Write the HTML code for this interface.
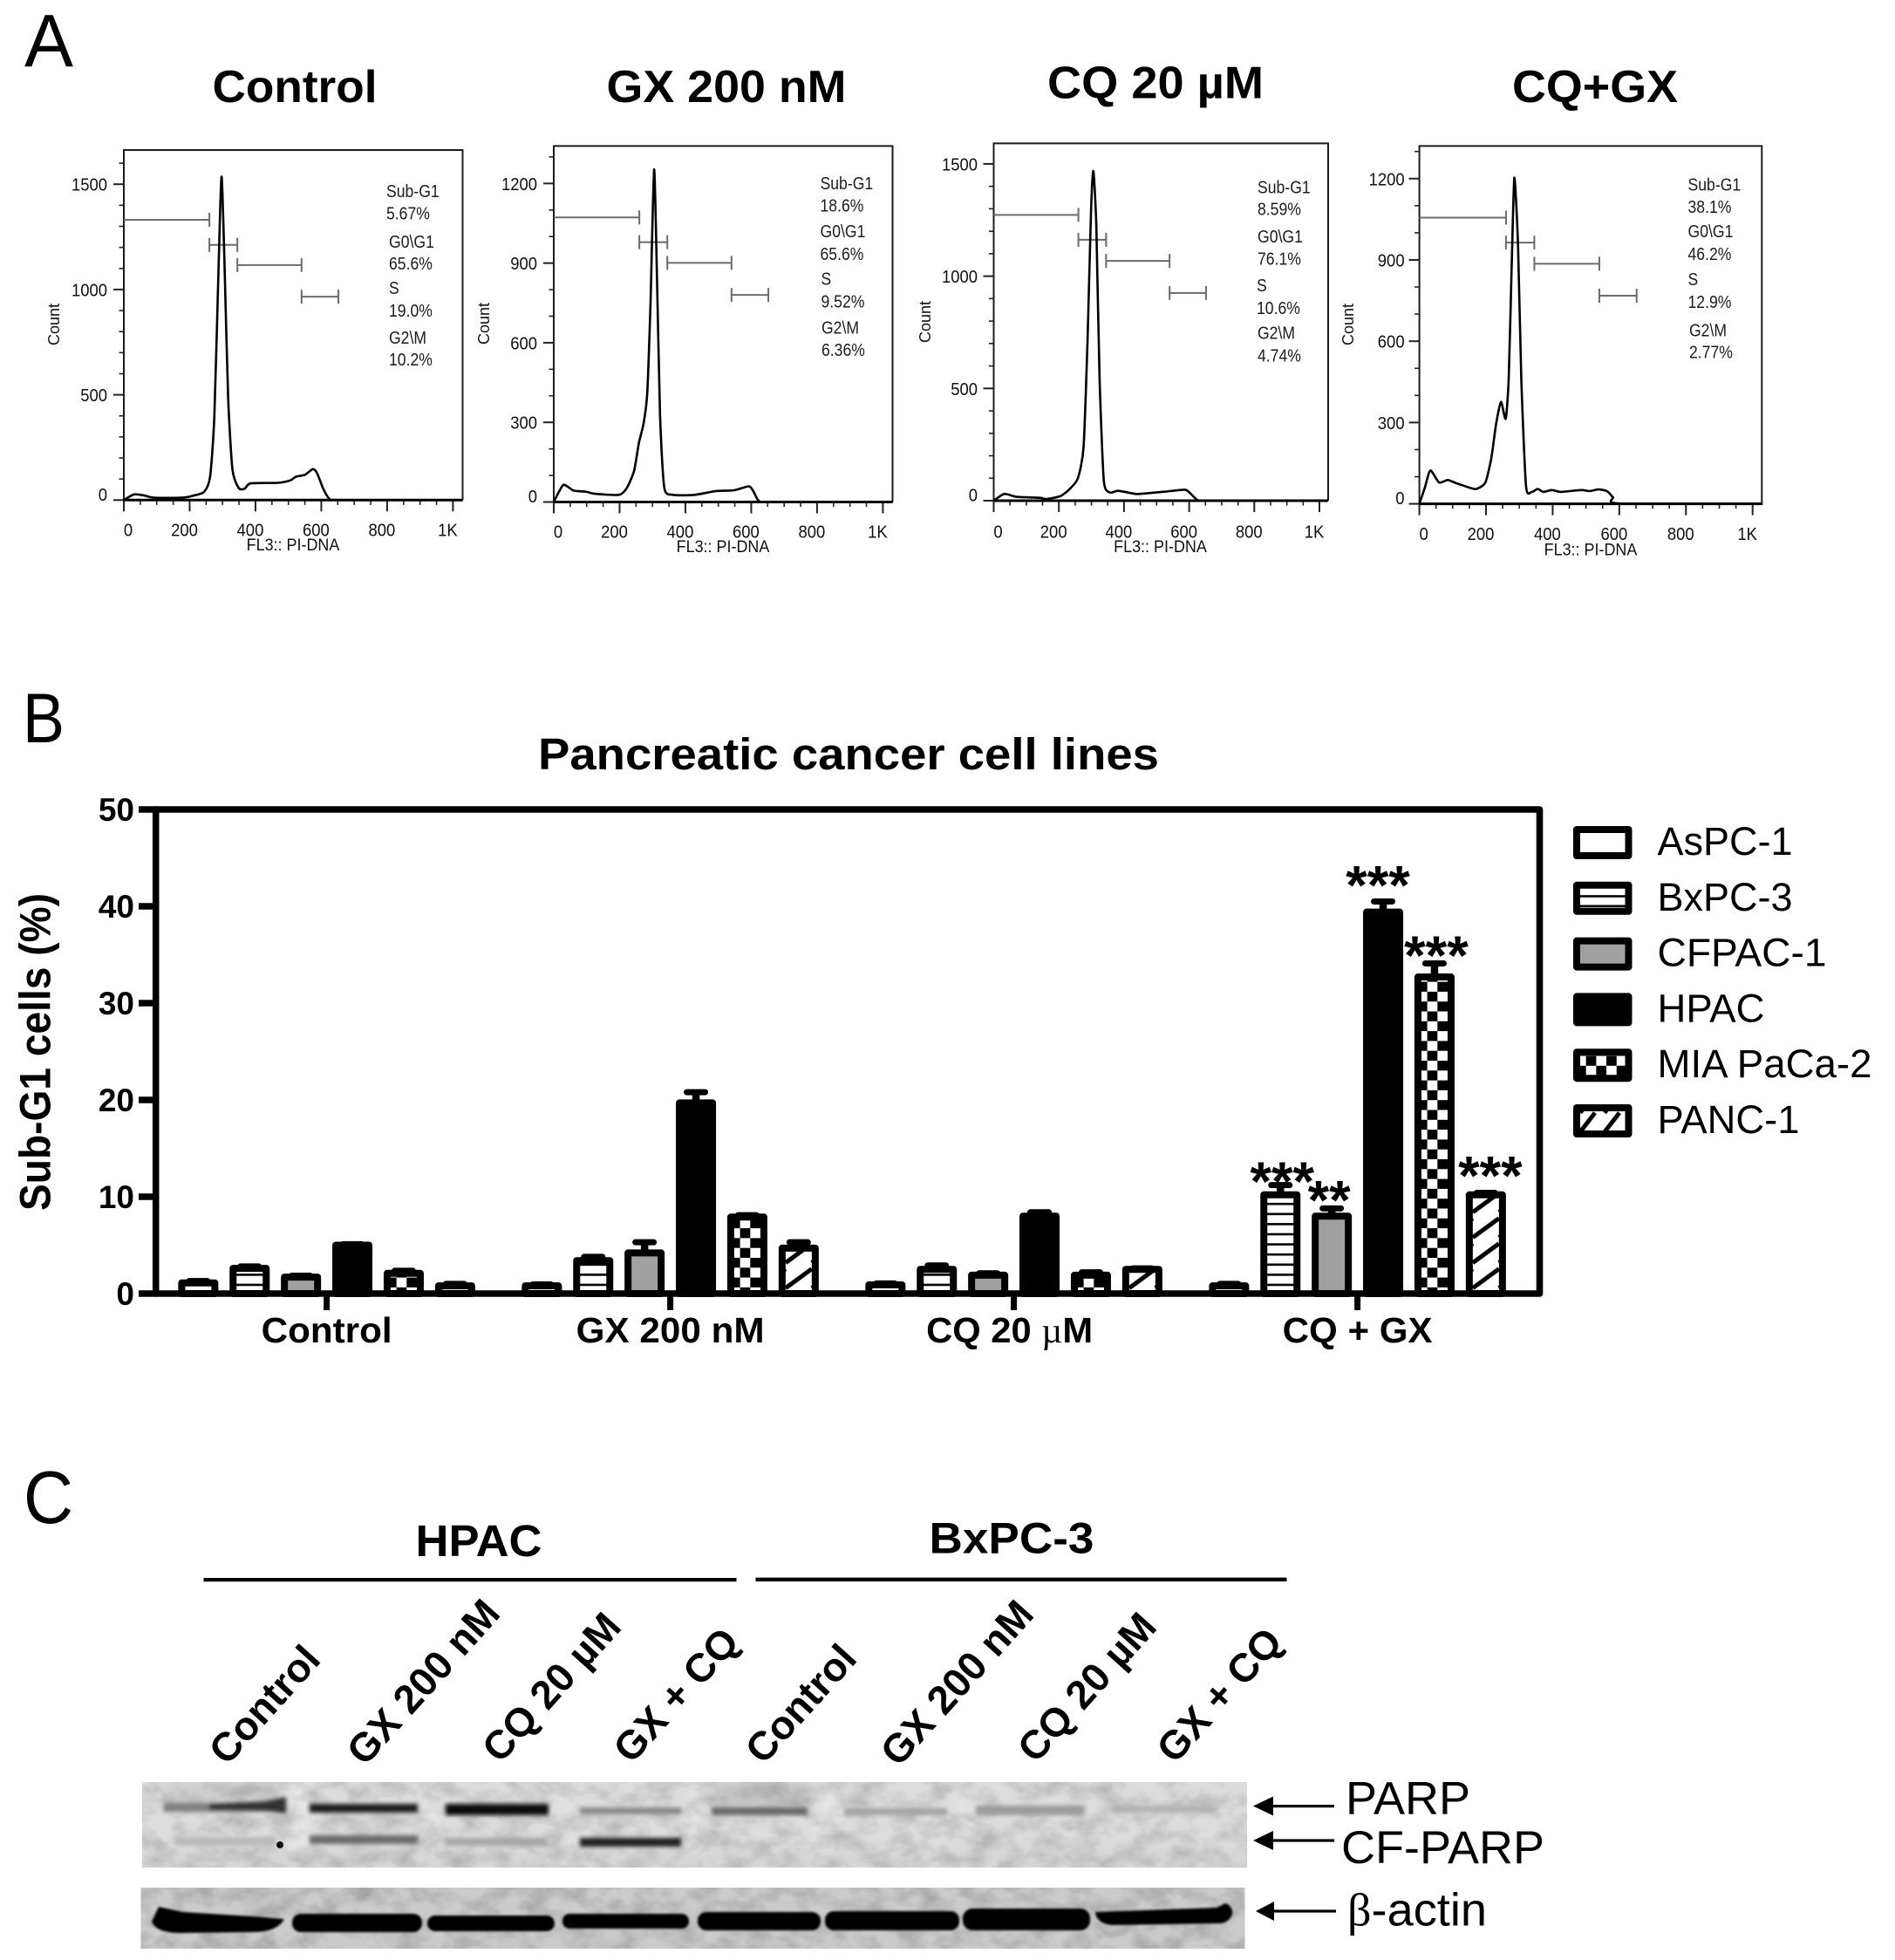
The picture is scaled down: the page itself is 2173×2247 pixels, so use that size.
<!DOCTYPE html>
<html lang="en">
<head>
<meta charset="utf-8">
<title>Sub-G1 analysis figure</title>
<style>
html,body{margin:0;padding:0;background:#fff}
svg{display:block;font-family:"Liberation Sans",Arial,sans-serif}
</style>
</head>
<body>
<svg id="fig" xmlns="http://www.w3.org/2000/svg" width="2173" height="2247" viewBox="0 0 2173 2247">
<defs id="defs">
<filter id="blur2" x="-10%" y="-80%" width="120%" height="260%"><feGaussianBlur stdDeviation="2.4"/></filter>
<filter id="blur1" x="-5%" y="-30%" width="110%" height="160%"><feGaussianBlur stdDeviation="1.2"/></filter>
<filter id="blur6" x="-20%" y="-40%" width="140%" height="180%"><feGaussianBlur stdDeviation="6"/></filter>
<filter id="mottle" x="0" y="0" width="100%" height="100%">
<feTurbulence type="fractalNoise" baseFrequency="0.035 0.05" numOctaves="3" seed="7"/>
<feColorMatrix type="matrix" values="0 0 0 0 0  0 0 0 0 0  0 0 0 0 0  0.9 0 0 0 -0.32"/>
</filter>
<clipPath id="parpClip"><rect x="163" y="2043" width="1267" height="98"/></clipPath>
</defs>
<rect width="2173" height="2247" fill="#fff"/>

<text x="28" y="76" font-size="85" textLength="56" lengthAdjust="spacingAndGlyphs">A</text>
<text x="26" y="851" font-size="81" textLength="48" lengthAdjust="spacingAndGlyphs">B</text>
<text x="27" y="1746" font-size="85" textLength="57" lengthAdjust="spacingAndGlyphs">C</text>

<text x="338" y="117" font-size="52" font-weight="bold" text-anchor="middle" textLength="189" lengthAdjust="spacingAndGlyphs">Control</text>
<text x="833" y="117" font-size="52" font-weight="bold" text-anchor="middle" textLength="275" lengthAdjust="spacingAndGlyphs">GX 200 nM</text>
<text x="1325" y="112.5" font-size="52" font-weight="bold" text-anchor="middle" textLength="248" lengthAdjust="spacingAndGlyphs">CQ 20 µM</text>
<text x="1829" y="117" font-size="52" font-weight="bold" text-anchor="middle" textLength="190" lengthAdjust="spacingAndGlyphs">CQ+GX</text>

<g id="histograms"></g>

<text x="973" y="882" font-size="51" font-weight="bold" text-anchor="middle" textLength="712" lengthAdjust="spacingAndGlyphs">Pancreatic cancer cell lines</text>
<text transform="translate(57.5,1206) rotate(-90)" font-size="50" font-weight="bold" text-anchor="middle" textLength="364" lengthAdjust="spacingAndGlyphs">Sub-G1 cells (%)</text>
<g id="barchart"></g>
<g id="legend"></g>

<text x="549" y="1784" font-size="51" font-weight="bold" text-anchor="middle" textLength="145" lengthAdjust="spacingAndGlyphs">HPAC</text>
<text x="1160" y="1780.5" font-size="50" font-weight="bold" text-anchor="middle" textLength="189" lengthAdjust="spacingAndGlyphs">BxPC-3</text>
<rect x="233.5" y="1809" width="611" height="4.2" fill="#000"/>
<rect x="866.5" y="1808.6" width="609" height="4.4" fill="#000"/>

<g font-size="46" font-weight="bold" text-anchor="middle">
<text transform="translate(303,1954) rotate(-48)" y="16">Control</text>
<text transform="translate(485,1928) rotate(-48)" y="16">GX 200 nM</text>
<text transform="translate(632,1934) rotate(-48)" y="16">CQ 20 µM</text>
<text transform="translate(775,1943) rotate(-48)" y="16">GX + CQ</text>
<text transform="translate(918,1953) rotate(-48)" y="16">Control</text>
<text transform="translate(1097,1929) rotate(-48)" y="16">GX 200 nM</text>
<text transform="translate(1246,1934) rotate(-48)" y="16">CQ 20 µM</text>
<text transform="translate(1398,1943) rotate(-48)" y="16">GX + CQ</text>
</g>

<g>
<rect x="163" y="2043" width="1267" height="98" fill="#dcdcdc"/>
<g clip-path="url(#parpClip)">
<g filter="url(#blur6)">
<rect x="330" y="2043" width="22" height="98" fill="#e8e8e8"/>
<rect x="488" y="2043" width="18" height="98" fill="#e4e4e4"/>
<rect x="640" y="2043" width="18" height="98" fill="#e2e2e2"/>
<rect x="790" y="2043" width="20" height="98" fill="#e2e2e2"/>
<rect x="936" y="2043" width="22" height="98" fill="#e6e6e6"/>
<rect x="1095" y="2043" width="16" height="50" fill="#e4e4e4"/>
<rect x="190" y="2043" width="135" height="26" fill="#cdcdcd"/>
<rect x="820" y="2043" width="110" height="30" fill="#c2c2c2"/>
<rect x="163" y="2122" width="1267" height="19" fill="#d4d4d4"/>
</g>
<rect x="163" y="2043" width="1267" height="98" filter="url(#mottle)" opacity="0.35"/>
</g>
<g filter="url(#blur2)">
<rect x="188" y="2067" width="138" height="10" fill="#808080"/>
<path d="M240 2068 L305 2065 L328 2060 L328 2079 L305 2076 L240 2075 Z" fill="#333"/>
<rect x="355" y="2068" width="124" height="10" fill="#1c1c1c"/>
<rect x="511" y="2068" width="118" height="13" fill="#111"/>
<rect x="665" y="2072" width="116" height="8" fill="#8a8a8a"/>
<rect x="816" y="2072" width="110" height="9" fill="#6a6a6a"/>
<rect x="968" y="2073" width="118" height="8" fill="#a4a4a4"/>
<rect x="1119" y="2070" width="124" height="11" fill="#9c9c9c"/>
<rect x="1276" y="2070" width="118" height="8" fill="#b2b2b2"/>
<rect x="200" y="2106" width="116" height="10" fill="#bababa"/>
<rect x="355" y="2104" width="124" height="10" fill="#6c6c6c"/>
<rect x="511" y="2107" width="116" height="9" fill="#a6a6a6"/>
<rect x="665" y="2107" width="116" height="10" fill="#222"/>
</g>
<circle cx="321" cy="2115" r="4" fill="#111"/>
</g>

<g>
<rect x="161.5" y="2164" width="1266" height="70" fill="#cbcbcb"/>
<rect x="161.5" y="2164" width="1266" height="70" filter="url(#mottle)" opacity="0.4"/>
<g filter="url(#blur1)" fill="#000">
<path d="M182 2186 L210 2192 L290 2197 L326 2200 Q318 2215 290 2215 L205 2216 Q178 2215 174 2203 Z"/>
<rect x="335" y="2194" width="149" height="21" rx="10"/>
<rect x="490" y="2196" width="146" height="18" rx="9"/>
<rect x="645" y="2194" width="145" height="17" rx="8"/>
<rect x="800" y="2192" width="141" height="21" rx="10"/>
<rect x="946" y="2191" width="154" height="22" rx="10"/>
<rect x="1104" y="2188" width="146" height="25" rx="11"/>
<path d="M1256 2192 L1395 2187 L1405 2182 Q1414 2185 1413 2195 Q1408 2206 1395 2205 L1275 2207 Q1257 2205 1256 2192 Z"/>
</g>
</g>

<g>
<polygon points="1437,2070.5 1460,2059.5 1460,2081.5" fill="#000"/>
<rect x="1455" y="2069" width="75" height="3.2" fill="#000"/>
</g>
<g>
<polygon points="1437,2110 1460,2099 1460,2121" fill="#000"/>
<rect x="1455" y="2108.4" width="75" height="3.2" fill="#000"/>
</g>
<g>
<polygon points="1440,2191 1461,2180 1461,2202" fill="#000"/>
<rect x="1456" y="2189.4" width="76" height="3.2" fill="#000"/>
</g>
<text x="1543" y="2079.5" font-size="53" textLength="143" lengthAdjust="spacingAndGlyphs">PARP</text>
<text x="1538" y="2135.8" font-size="53" textLength="233" lengthAdjust="spacingAndGlyphs">CF-PARP</text>
<text x="1545" y="2207.5" font-size="53" textLength="160" lengthAdjust="spacingAndGlyphs"><tspan font-family="'Liberation Serif',serif">β</tspan>-actin</text>

<script>
/* ---------- Panel A data ---------- */
const histXTicks = [0, 200, 400, 600, 800, 1000];
const histXTickLabels = ['0', '200', '400', '600', '800', '1K'];
const controlYTicks = [0, 500, 1000, 1500];
const gxYTicks = [0, 300, 600, 900, 1200];
const cqYTicks = [0, 500, 1000, 1500];
const comboYTicks = [0, 300, 600, 900, 1200];

const controlChannel = [0, 31, 64, 92, 174, 211, 244, 262, 275, 288, 297, 306, 317, 330, 349, 367, 385, 468, 505, 523, 550, 574, 587, 605, 624, 651, 1030];
const controlCount = [0, 27, 21, 11, 11, 21, 39, 111, 398, 1115, 1536, 1115, 487, 147, 57, 54, 79, 82, 93, 111, 120, 147, 129, 57, 7, 0, 0];
const gxChannel = [0, 29, 60, 97, 125, 198, 222, 244, 259, 273, 284, 294, 305, 314, 323, 336, 363, 428, 492, 547, 593, 607, 624, 666, 1030];
const gxCount = [0, 64, 43, 39, 31, 27, 53, 117, 224, 296, 410, 753, 1253, 824, 324, 53, 27, 27, 41, 44, 59, 39, 3, 0, 0];
const cqChannel = [0, 32, 71, 142, 160, 204, 231, 258, 276, 288, 299, 306, 315, 325, 338, 356, 382, 436, 462, 524, 587, 604, 626, 658, 1025];
const cqCount = [0, 30, 17, 13, 7, 20, 49, 99, 242, 714, 1303, 1468, 1219, 545, 91, 37, 44, 30, 32, 40, 49, 32, 3, 0, 0];
const comboChannel = [0, 16, 33, 59, 85, 111, 155, 172, 198, 216, 230, 245, 259, 268, 277, 285, 296, 306, 320, 337, 355, 372, 398, 424, 485, 511, 537, 563, 581, 602, 1030];
const comboCount = [0, 58, 123, 79, 88, 76, 58, 55, 79, 169, 293, 376, 314, 459, 874, 1203, 957, 459, 65, 44, 55, 44, 51, 44, 51, 47, 53, 47, 24, 1, 0];

const gateStart = [0, 260, 345, 540];
const gateEnd = [260, 345, 540, 652];
const controlGateLevel = [1331, 1212, 1116, 966];
const gxGateLevel = [1072, 979, 901, 780];
const cqGateLevel = [1273, 1162, 1068, 925];
const comboGateLevel = [1056, 964, 886, 768];

const gateNames = ['Sub-G1', 'G0\\G1', 'S', 'G2\\M'];
const controlPercents = ['5.67%', '65.6%', '19.0%', '10.2%'];
const gxPercents = ['18.6%', '65.6%', '9.52%', '6.36%'];
const cqPercents = ['8.59%', '76.1%', '10.6%', '4.74%'];
const comboPercents = ['38.1%', '46.2%', '12.9%', '2.77%'];

/* ---------- Panel B data ---------- */
const categories = ['Control', 'GX 200 nM', 'CQ 20 µM', 'CQ + GX'];
const cellLines = ['AsPC-1', 'BxPC-3', 'CFPAC-1', 'HPAC', 'MIA PaCa-2', 'PANC-1'];
const barYTicks = [0, 10, 20, 30, 40, 50];
const controlMeans = [1.1, 2.6, 1.7, 5.0, 2.1, 0.8];
const controlErrors = [0.2, 0.2, 0.15, 0.1, 0.25, 0.2];
const gxMeans = [0.8, 3.4, 4.2, 19.7, 7.9, 4.7];
const gxErrors = [0.15, 0.4, 1.1, 1.1, 0.2, 0.6];
const cqMeans = [0.9, 2.5, 1.9, 8.0, 1.9, 2.5];
const cqErrors = [0.15, 0.4, 0.2, 0.4, 0.3, 0.1];
const comboMeans = [0.8, 10.2, 8.0, 39.4, 32.7, 10.2];
const comboErrors = [0.2, 1.0, 0.8, 1.1, 1.4, 0.2];
const comboSignificance = ['', '***', '**', '***', '***', '***'];

const SVGNS = 'http://www.w3.org/2000/svg';
function mk(tag, attrs, parent, text) {
  const el = document.createElementNS(SVGNS, tag);
  for (const k in attrs) el.setAttribute(k, attrs[k]);
  if (text !== undefined) el.textContent = text;
  parent.appendChild(el);
  return el;
}
function slug(s) {
  return s.toLowerCase().replace(/[^a-z0-9]+/g, '-').replace(/^-|-$/g, '');
}
function condense(el, factor) {
  el.setAttribute('textLength', (el.getComputedTextLength() * factor).toFixed(1));
  el.setAttribute('lengthAdjust', 'spacingAndGlyphs');
}
function smoothPath(xs, ys, yLimit) {
  let d = 'M' + xs[0].toFixed(1) + ' ' + ys[0].toFixed(1);
  const t = 0.11;
  for (let i = 0; i < xs.length - 1; i++) {
    const a = Math.max(i - 1, 0), b = Math.min(i + 2, xs.length - 1);
    const c1x = xs[i] + (xs[i + 1] - xs[a]) * t;
    const c1y = Math.min(ys[i] + (ys[i + 1] - ys[a]) * t, yLimit);
    const c2x = xs[i + 1] - (xs[b] - xs[i]) * t;
    const c2y = Math.min(ys[i + 1] - (ys[b] - ys[i]) * t, yLimit);
    d += 'C' + c1x.toFixed(1) + ' ' + c1y.toFixed(1) + ' ' + c2x.toFixed(1) + ' ' + c2y.toFixed(1) + ' ' + xs[i + 1].toFixed(1) + ' ' + ys[i + 1].toFixed(1);
  }
  return d;
}

/* ---------- Panel A drawing ---------- */
const histRoot = document.getElementById('histograms');
const histPanels = [
  {key: 'control', left: 142, right: 530.5, top: 172, y0: 573.3, perUnitX: 0.3774, perUnitY: 0.2414, yTicks: controlYTicks, ch: controlChannel, ct: controlCount, gate: controlGateLevel, pct: controlPercents,
   xLab: 614.5, flX: 336, flY: 631, countX: 62, countY: 372, gutter: 19,
   labX: [443, 446, 446, 446], labY: [226, 251.5, 284, 309, 337, 363, 394, 419]},
  {key: 'gx', left: 635, right: 1023.5, top: 167.4, y0: 575.5, perUnitX: 0.3774, perUnitY: 0.3043, yTicks: gxYTicks, ch: gxChannel, ct: gxCount, gate: gxGateLevel, pct: gxPercents,
   xLab: 616.6, flX: 829, flY: 633, countX: 555, countY: 371, gutter: 19,
   labX: [940.5, 940.5, 941.5, 942], labY: [217, 242.4, 272, 298, 326.5, 352.5, 382.5, 408]},
  {key: 'cq', left: 1139.5, right: 1523, top: 164.4, y0: 574, perUnitX: 0.3735, perUnitY: 0.2574, yTicks: cqYTicks, ch: cqChannel, ct: cqCount, gate: cqGateLevel, pct: cqPercents,
   xLab: 616.6, flX: 1330.5, flY: 633, countX: 1061, countY: 369, gutter: 18.5,
   labX: [1442, 1442, 1441, 1442], labY: [221.6, 246.7, 278, 303.5, 334, 360, 388.5, 414.5]},
  {key: 'combo', left: 1627.6, right: 2020.3, top: 167.4, y0: 577.6, perUnitX: 0.3821, perUnitY: 0.3107, yTicks: comboYTicks, ch: comboChannel, ct: comboCount, gate: comboGateLevel, pct: comboPercents,
   xLab: 619, flX: 1824, flY: 636.6, countX: 1546, countY: 372, gutter: 17,
   labX: [1935.5, 1935.5, 1935.5, 1937], labY: [218.6, 244, 272, 298, 327, 353, 385.5, 410.6]}
];

histPanels.forEach(function (p) {
  const xS = function (v) { return p.left + v * p.perUnitX; };
  const yS = function (v) { return p.y0 - v * p.perUnitY; };
  const g = mk('g', {}, histRoot);
  
  

  const frame = mk('path', {d: 'M' + p.left + ' ' + p.y0 + 'V' + p.top + 'H' + p.right + 'V' + p.y0, fill: 'none', stroke: '#1c1c1c', 'stroke-width': 2}, g);
  
  

  const yMax = (p.y0 - p.top) / p.perUnitY;
  for (let v = 0; v <= yMax; v += 100) {
    const major = p.yTicks.indexOf(v) >= 0;
    const tick = mk('line', {x1: p.left - (major ? 12 : 5.5), x2: p.left, y1: yS(v), y2: yS(v), stroke: '#222', 'stroke-width': major ? 2 : 1.6}, g);
    
    
  }
  p.yTicks.forEach(function (v) {
    const lab = mk('text', {x: p.left - p.gutter, y: yS(v) + 7.5 - (v === 0 ? 7 : 0), 'font-size': 20.5, 'text-anchor': 'end', fill: '#111'}, g, String(v));
    
    
    condense(lab, 0.9);
  });
  for (let v = 0; v <= 1000; v += 50) {
    const major = histXTicks.indexOf(v) >= 0;
    const tick = mk('line', {x1: xS(v), x2: xS(v), y1: p.y0, y2: p.y0 + (major ? 13 : 5.6), stroke: '#222', 'stroke-width': major ? 2 : 1.6}, g);
    
    
  }
  histXTicks.forEach(function (v, i) {
    const lab = mk('text', {x: xS(v) + (i === 0 ? 5 : -6), y: p.xLab, 'font-size': 20.5, 'text-anchor': 'middle', fill: '#111'}, g, histXTickLabels[i]);
    
    
    condense(lab, 0.9);
  });
  const fl = mk('text', {x: p.flX, y: p.flY, 'font-size': 19.5, 'text-anchor': 'middle', fill: '#111'}, g, 'FL3:: PI-DNA');
  
  
  condense(fl, 0.92);
  const cnt = mk('text', {transform: 'translate(' + (p.countX + 6) + ',' + p.countY + ') rotate(-90)', 'font-size': 18, 'text-anchor': 'middle', fill: '#111'}, g, 'Count');
  
  

  gateStart.forEach(function (s, i) {
    const yy = yS(p.gate[i]);
    const x1 = xS(s), x2 = xS(gateEnd[i]);
    const gate = mk('path', {d: 'M' + x1 + ' ' + yy + 'H' + x2 + (i > 0 ? 'M' + x1 + ' ' + (yy - 8) + 'V' + (yy + 8) : '') + 'M' + x2 + ' ' + (yy - 8) + 'V' + (yy + 8), fill: 'none', stroke: '#6b6b6b', 'stroke-width': 2}, g);
    
    
  });

  gateNames.forEach(function (name, i) {
    const a = mk('text', {x: p.labX[i], y: p.labY[i * 2], 'font-size': 20, fill: '#1c1c1c'}, g, name);
    
    
    condense(a, 0.88);
    const b = mk('text', {x: p.labX[i], y: p.labY[i * 2 + 1], 'font-size': 20, fill: '#1c1c1c'}, g, p.pct[i]);
    
    
    condense(b, 0.88);
  });

  const curve = mk('path', {d: smoothPath(p.ch.map(xS), p.ct.map(yS), p.y0), fill: 'none', stroke: '#000', 'stroke-width': 2.6, 'stroke-linejoin': 'round'}, g);
  
  

  const base = mk('line', {x1: p.left, x2: p.right, y1: p.y0, y2: p.y0, stroke: '#000', 'stroke-width': 3}, g);
  
  
});

/* ---------- Panel B drawing ---------- */
const defs = document.getElementById('defs');
const barRoot = document.getElementById('barchart');
const legendRoot = document.getElementById('legend');
const Y0 = 1483, PX_PER_PCT = 11.1, GROUP0 = 374.6, GROUP_STEP = 394, BAR_STEP = 58.9;
const yBar = function (v) { return Y0 - v * PX_PER_PCT; };
const xGroup = function (g) { return GROUP0 + GROUP_STEP * g; };
const xBar = function (g, k) { return xGroup(g) + (k - (cellLines.length - 1) / 2) * BAR_STEP; };
let patternCount = 0;

function patternFill(k, innerLeft, bottom, legendStyle) {
  if (k === 0) return '#fff';
  if (k === 2) return '#a0a0a0';
  if (k === 3) return '#000';
  const id = 'pat' + (patternCount++);
  if (k === 1) {
    const pat = mk('pattern', {id: id, patternUnits: 'userSpaceOnUse', x: innerLeft, y: bottom - 11.3, width: 60, height: legendStyle ? 11.3 : 11.6}, defs);
    mk('rect', {width: 60, height: 12, fill: '#fff'}, pat);
    mk('rect', {width: 60, height: 2.6, fill: '#000'}, pat);
  } else if (k === 4) {
    const pat = mk('pattern', {id: id, patternUnits: 'userSpaceOnUse', x: innerLeft + 6.67, y: bottom - 29.7, width: 23.4, height: 22.6}, defs);
    mk('rect', {width: 23.4, height: 22.6, fill: '#fff'}, pat);
    mk('rect', {width: 11.7, height: 11.3, fill: '#000'}, pat);
    mk('rect', {x: 11.7, y: 11.3, width: 11.7, height: 11.3, fill: '#000'}, pat);
  } else {
    const w = legendStyle ? 28 : 30, h = legendStyle ? 22 : 29, dx = legendStyle ? 17 : 30, dy = 22;
    const pat = mk('pattern', {id: id, patternUnits: 'userSpaceOnUse', x: innerLeft, y: bottom - 28.3, width: w, height: h}, defs);
    mk('rect', {width: w, height: h, fill: '#fff'}, pat);
    for (let a = -1; a <= 1; a++) {
      for (let b = -1; b <= 1; b++) {
        mk('line', {x1: a * w, y1: 22 + b * h, x2: a * w + dx, y2: 22 + b * h - dy, stroke: '#000', 'stroke-width': 5}, pat);
      }
    }
  }
  return 'url(#' + id + ')';
}

const groupMeans = [controlMeans, gxMeans, cqMeans, comboMeans];
const groupErrors = [controlErrors, gxErrors, cqErrors, comboErrors];
groupMeans.forEach(function (means, g) {
  means.forEach(function (v, k) {
    const cx = xBar(g, k);
    const top = yBar(v);
    const errTop = yBar(v + groupErrors[g][k]);
    const stem = mk('line', {x1: cx, x2: cx, y1: top, y2: errTop, stroke: '#000', 'stroke-width': 8.5}, barRoot);
    
    
    const cap = mk('line', {x1: cx - 10.5, x2: cx + 10.5, y1: errTop, y2: errTop, stroke: '#000', 'stroke-width': 7, 'stroke-linecap': 'round'}, barRoot);
    
    
    const bar = mk('rect', {x: cx - 19, y: top, width: 38, height: Y0 - top, fill: patternFill(k, cx - 15, Y0), stroke: '#000', 'stroke-width': 8, 'stroke-linejoin': 'round'}, barRoot);
    
    
  });
});

const frame = mk('rect', {x: 178.7, y: 928, width: 1586.8, height: Y0 - 928, fill: 'none', stroke: '#000', 'stroke-width': 7.6, 'stroke-linejoin': 'round'}, barRoot);



barYTicks.forEach(function (v) {
  const tick = mk('line', {x1: 159, x2: 180, y1: yBar(v), y2: yBar(v), stroke: '#000', 'stroke-width': 7.6}, barRoot);
  
  
  const lab = mk('text', {x: 154, y: yBar(v) + 13, 'font-size': 37, 'font-weight': 'bold', 'text-anchor': 'end'}, barRoot, String(v));
  
  
});

const catWidths = [150, 216, 191, 172];
categories.forEach(function (c, g) {
  const tick = mk('line', {x1: xGroup(g), x2: xGroup(g), y1: Y0, y2: 1502, stroke: '#000', 'stroke-width': 7}, barRoot);
  
  
  const lab = mk('text', {x: xGroup(g) - (g === 2 ? 5 : 0), y: 1539, 'font-size': 41, 'font-weight': 'bold', 'text-anchor': 'middle', textLength: catWidths[g], lengthAdjust: 'spacingAndGlyphs'}, barRoot);
  
  
  if (c.indexOf('µ') >= 0) {
    const parts = c.split('µ');
    lab.appendChild(document.createTextNode(parts[0]));
    mk('tspan', {'font-family': "'Liberation Serif',serif", 'font-weight': 'normal'}, lab, 'µ');
    lab.appendChild(document.createTextNode(parts[1]));
  } else {
    lab.textContent = c;
  }
});

const starDx = [0, 2, -3, -6, 2, 5];
const starDy = [0, 17.5, 12, 3, 12.5, 2];
comboSignificance.forEach(function (s, k) {
  if (!s) return;
  const v = comboMeans[k] + comboErrors[k];
  const star = mk('text', {x: xBar(3, k) + starDx[k], y: yBar(v) + starDy[k], 'font-size': 63, 'font-weight': 'bold', 'text-anchor': 'middle'}, barRoot, s);
  
  
});

const legendTextWidths = [155, 155, 194, 123, 246, 163];
cellLines.forEach(function (name, k) {
  const outerTop = 947 + k * 63.8;
  const entry = mk('g', {}, legendRoot);
  
  
  const sw = mk('rect', {x: 1808, y: outerTop + 4, width: 59.5, height: 30, fill: patternFill(k, 1812, outerTop + 38, true), stroke: '#000', 'stroke-width': 8, 'stroke-linejoin': 'round'}, entry);
  
  
  const txt = mk('text', {x: 1900.5, y: outerTop + 33, 'font-size': 45, textLength: legendTextWidths[k], lengthAdjust: 'spacingAndGlyphs'}, entry, name);
  
  
});
</script>
</svg>
</body>
</html>
